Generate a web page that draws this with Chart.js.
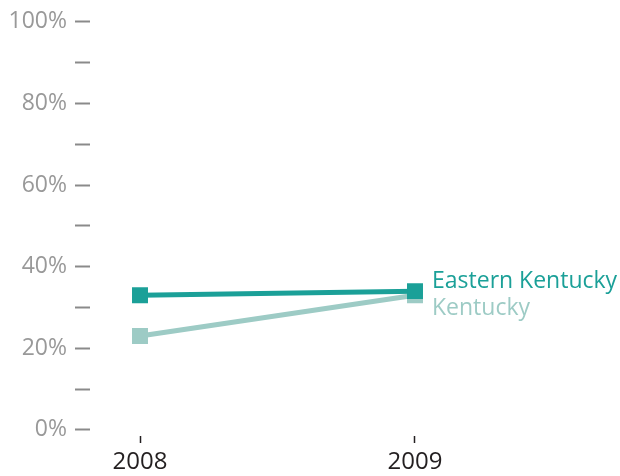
<!DOCTYPE html>
<html>
<head>
<meta charset="utf-8">
<script src="https://cdn.jsdelivr.net/npm/chart.js@4/dist/chart.umd.min.js"></script>
<style>
  html, body { margin: 0; padding: 0; background: #fff; }
  #wrap { width: 620px; height: 476px; position: relative; }
</style>
</head>
<body>
<div id="wrap"><canvas id="chart" width="620" height="476"></canvas></div>
<script>
// ===== Data =====
const years = [2008, 2009];
const easternKentucky = [33, 34];
const kentucky = [23, 33];
const yTicks = [0, 10, 20, 30, 40, 50, 60, 70, 80, 90, 100];

const seriesNames = ['Eastern Kentucky', 'Kentucky'];
const seriesColors = ['#1ba098', '#9dcbc5'];
const fontFamily = '"Open Sans", "Noto Sans", sans-serif';

// end-of-line labels next to the last point
const endLabels = {
    id: 'endLabels',
    afterDatasetsDraw(chart) {
        const ctx = chart.ctx;
        ctx.save();
        ctx.font = '23px ' + fontFamily;
        ctx.textBaseline = 'middle';
        ctx.textAlign = 'left';
        const offsets = [-10, 13];
        chart.data.datasets.forEach((ds, i) => {
            const meta = chart.getDatasetMeta(i);
            const pt = meta.data[meta.data.length - 1];
            ctx.fillStyle = seriesColors[i];
            ctx.fillText(seriesNames[i], pt.x + 17, pt.y + offsets[i]);
        });
        ctx.restore();
    }
};

new Chart(document.getElementById('chart'), {
    type: 'line',
    data: {
        datasets: [
            {
                label: seriesNames[0],
                data: years.map((y, i) => ({ x: y, y: easternKentucky[i] })),
                borderColor: seriesColors[0],
                backgroundColor: seriesColors[0],
                borderWidth: 5,
                pointStyle: 'rect',
                pointRadius: 11.3,
                pointBorderWidth: 0
            },
            {
                label: seriesNames[1],
                data: years.map((y, i) => ({ x: y, y: kentucky[i] })),
                borderColor: seriesColors[1],
                backgroundColor: seriesColors[1],
                borderWidth: 5,
                pointStyle: 'rect',
                pointRadius: 11.3,
                pointBorderWidth: 0
            }
        ]
    },
    options: {
        responsive: false,
        animation: false,
        layout: { padding: { top: 17, right: 20, left: 0, bottom: 0 } },
        plugins: {
            legend: { display: false },
            tooltip: { enabled: false }
        },
        scales: {
            x: {
                type: 'linear',
                min: 2008 - 50 / 275,
                max: 2009 + 185 / 275,
                afterBuildTicks: s => { s.ticks = years.map(v => ({ value: v })); },
                afterFit: s => { s.height = 40; },
                border: { display: false },
                grid: { drawOnChartArea: false, tickLength: 7, color: '#231f20', tickWidth: 1.5 },
                ticks: {
                    color: '#231f20',
                    font: { family: fontFamily, size: 24 },
                    padding: 5,
                    callback: v => String(v)
                }
            },
            y: {
                min: -1.5,
                max: 100,
                afterBuildTicks: s => { s.ticks = yTicks.map(v => ({ value: v })); },
                afterFit: s => { s.width = 90; },
                border: { display: false },
                grid: { drawOnChartArea: false, tickLength: 15, color: '#8a8a8a', tickWidth: 2 },
                ticks: {
                    color: '#999999',
                    font: { family: fontFamily, size: 23 },
                    padding: 8,
                    callback: v => (v % 20 === 0 ? v + '%' : '')
                }
            }
        }
    },
    plugins: [endLabels]
});
</script>
</body>
</html>
